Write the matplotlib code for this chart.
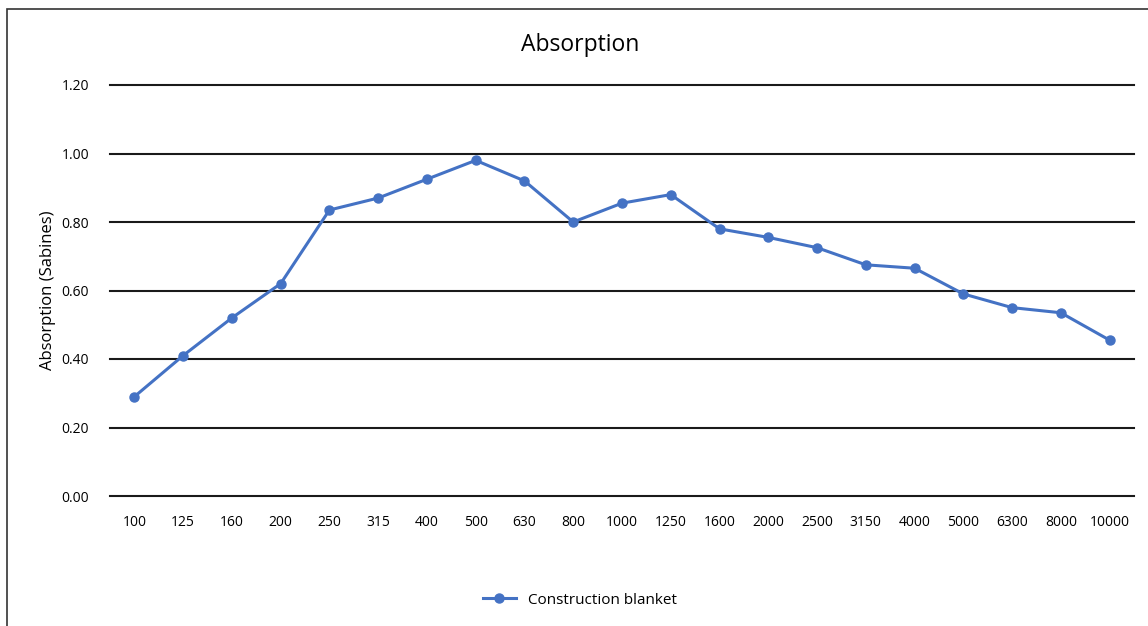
import matplotlib.pyplot as plt
from matplotlib.patches import Rectangle

# frequency bands (Hz) and measured absorption
freqs = ['100', '125', '160', '200', '250', '315', '400', '500', '630', '800',
         '1000', '1250', '1600', '2000', '2500', '3150', '4000', '5000',
         '6300', '8000', '10000']
absorption = [0.29, 0.41, 0.52, 0.62, 0.835, 0.87, 0.925, 0.98, 0.92, 0.80,
              0.855, 0.88, 0.78, 0.755, 0.725, 0.675, 0.665, 0.59, 0.55,
              0.535, 0.455]
y_ticks = [0.0, 0.2, 0.4, 0.6, 0.8, 1.0, 1.2]

plt.rcParams['font.family'] = ['Open Sans', 'DejaVu Sans']

W, H = 1148, 626
fig = plt.figure(figsize=(W / 100, H / 100), dpi=100)

# outer chart border (runs off the right and bottom edge)
fig.patches.append(Rectangle((7 / W, -0.1), 1.2, 1 - 9 / H + 0.1,
                             transform=fig.transFigure, fill=False,
                             edgecolor='#333333', linewidth=1.2))

ax = fig.add_axes([110 / W, 1 - 496 / H, (1134 - 110) / W, (496 - 85) / H])
x = list(range(len(freqs)))
ax.plot(x, absorption, color='#4472C4', linewidth=2.2, marker='o',
        markersize=6.5, label='Construction blanket', zorder=3)

ax.set_xlim(-0.5, len(freqs) - 0.5)
ax.set_ylim(0, 1.2)
ax.set_yticks(y_ticks)
ax.set_yticklabels([f'{v:.2f}' for v in y_ticks], fontsize=10)
ax.set_xticks(x)
ax.set_xticklabels(freqs, fontsize=10)
ax.tick_params(length=0)
ax.tick_params(axis='y', pad=15)
ax.tick_params(axis='x', pad=14)
ax.yaxis.grid(True, color='#1a1a1a', linewidth=1.5, zorder=1)
ax.set_axisbelow(True)
for gl in ax.get_ygridlines():
    gl.set_clip_on(False)
for s in ax.spines.values():
    s.set_visible(False)

ax.set_ylabel('Absorption (Sabines)', fontsize=12, labelpad=4)
fig.text(580 / W, 1 - 45 / H, 'Absorption', ha='center', va='center', fontsize=16.5)

ax.legend(loc='center', bbox_to_anchor=(580 / W, 1 - 600 / H),
          bbox_transform=fig.transFigure, frameon=False, fontsize=11,
          handlelength=2.2)

fig.savefig('out.png', dpi=100)
